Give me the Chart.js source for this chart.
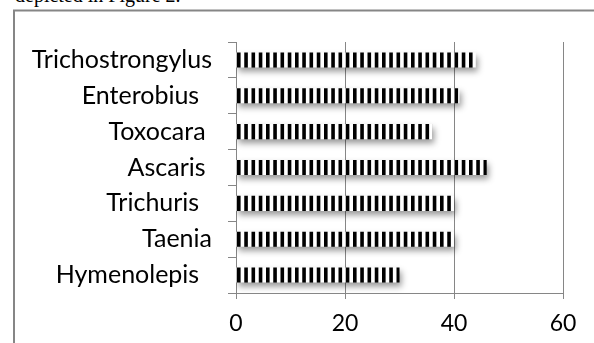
<!DOCTYPE html>
<html>
<head>
<meta charset="utf-8">
<script src="https://cdn.jsdelivr.net/npm/chart.js@4.4.1/dist/chart.umd.min.js"></script>
<style>
    html, body { margin: 0; padding: 0; background: #fff; overflow: hidden; }
    #wrap { position: relative; width: 594px; height: 343px; }
    #didascalia { position: absolute; left: 15px; top: -15px; font: 20px "Liberation Serif", serif; line-height: 20px; white-space: nowrap; color: #000; }
    #myChart { position: absolute; left: 0; top: 0; }
</style>
</head>
<body>
<div id="wrap">
    <div id="didascalia">depicted in Figure 2.</div>
    <canvas id="myChart" width="594" height="343"></canvas>
</div>
<script>
// dati (dall'alto verso il basso)
var parassiti = ['Trichostrongylus', 'Enterobius  ', 'Toxocara ', 'Ascaris ', 'Trichuris  ', 'Taenia', 'Hymenolepis  '];
var valori = [44, 41, 36, 46, 40, 40, 30];
var tick_x = [0, 20, 40, 60];

var grigio = '#868686';

// pattern a righe verticali bianche e nere per le barre (4 righe ogni 29px)
var ctx = document.getElementById('myChart').getContext('2d');
var tela = document.createElement('canvas');
tela.width = 29;
tela.height = 4;
var p = tela.getContext('2d');
p.fillStyle = '#fff';
p.fillRect(0, 0, 29, 4);
p.fillStyle = '#000';
for (var i = 0; i < 4; i++) {
    p.fillRect(i * 7.25, 0, 3.6, 4);
}
var righe = ctx.createPattern(tela, 'repeat');

// cornice esterna + ombra sotto le barre
var cornice = {
    id: 'cornice',
    beforeDraw: function(chart) {
        var c = chart.ctx;
        c.save();
        c.strokeStyle = grigio;
        c.lineWidth = 2;
        c.strokeRect(14, 10.5, 800, 600);
        c.restore();
    },
    beforeDatasetsDraw: function(chart) {
        var c = chart.ctx;
        righe.setTransform(new DOMMatrix().translate(chart.chartArea.left + 1, 0));
        c.save();
        c.shadowColor = 'rgba(0, 0, 0, 0.4)';
        c.shadowBlur = 6;
        c.shadowOffsetX = 2;
        c.shadowOffsetY = 4;
    },
    afterDatasetsDraw: function(chart) {
        chart.ctx.restore();
    }
};

var myChart = new Chart(ctx, {
    type: 'bar',
    data: {
        labels: parassiti,
        datasets: [{
            data: valori,
            backgroundColor: righe,
            borderWidth: 0,
            categoryPercentage: 1,
            barPercentage: 0.42
        }]
    },
    plugins: [cornice],
    options: {
        indexAxis: 'y',
        responsive: false,
        animation: false,
        devicePixelRatio: 1,
        layout: {
            padding: { left: 0, top: 42, right: 31, bottom: 0 }
        },
        plugins: {
            legend: { display: false },
            tooltip: { enabled: false },
            title: { display: false }
        },
        scales: {
            x: {
                min: 0,
                max: 60,
                afterBuildTicks: function(scale) {
                    scale.ticks = tick_x.map(function(v) { return { value: v }; });
                },
                afterFit: function(scale) {
                    scale.height = 50;
                },
                grid: {
                    color: grigio,
                    lineWidth: 1,
                    tickLength: 6,
                    drawOnChartArea: true
                },
                border: { display: true, color: grigio, width: 1 },
                ticks: {
                    color: '#000',
                    padding: 11,
                    font: { family: 'Lato', size: 23 }
                }
            },
            y: {
                afterFit: function(scale) {
                    scale.width = 236;
                },
                grid: {
                    color: grigio,
                    offset: true,
                    tickLength: 8,
                    drawOnChartArea: false
                },
                border: { display: true, color: grigio, width: 1 },
                ticks: {
                    color: '#000',
                    padding: 16,
                    font: { family: 'Lato', size: 25 }
                }
            }
        }
    }
});
</script>
</body>
</html>
